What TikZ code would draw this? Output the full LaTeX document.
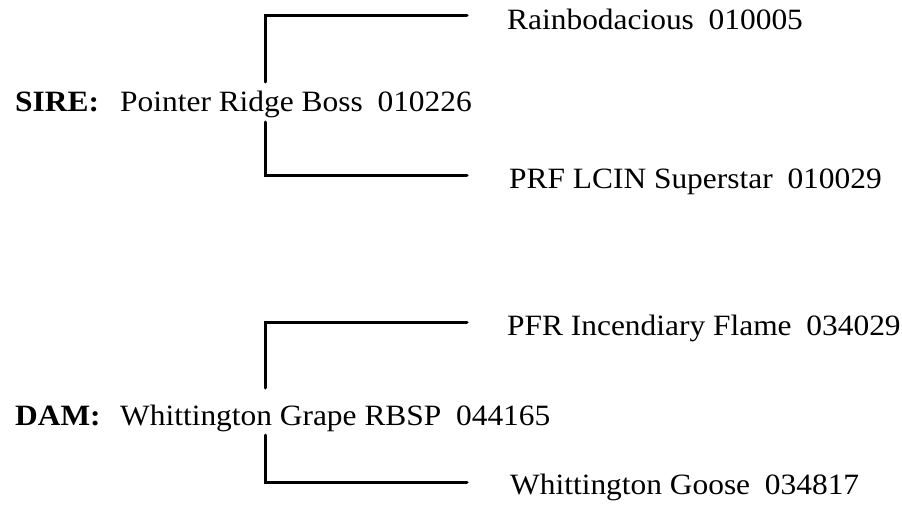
\documentclass[tikz,border=0pt]{standalone}
\usepackage{fontspec}
\setmainfont[FakeStretch=1.065]{Liberation Serif}

\begin{document}
\begin{tikzpicture}[x=1pt, y=-1pt,
    horse/.style={anchor=base west, inner sep=0pt, font=\fontsize{29.5}{34}\selectfont},
    tag/.style={horse, font=\fontsize{29.5}{34}\selectfont\bfseries},
    bracket/.style={line width=3pt, line cap=round, line join=miter}]
    \useasboundingbox (0,0) rectangle (902,506);

    % --- Sire side ---
    \node[tag] (sirelbl) at (15,111) {SIRE:};
    \node[horse] (sire) at (120,111) {Pointer Ridge Boss\hspace{0.5em}010226};
    \node[horse] (siresire) at (507,29) {Rainbodacious\hspace{0.5em}010005};
    \node[horse] (siredam) at (509,188) {PRF LCIN Superstar\hspace{0.5em}010029};

    \coordinate (sireup) at (265,82);
    \coordinate (siredown) at (265,122);
    \coordinate (siretop) at (467,15);
    \coordinate (sirebot) at (467,175);
    \draw[bracket] (siretop) -| (sireup);
    \draw[bracket] (siredown) |- (sirebot);

    % --- Dam side ---
    \node[tag] (damlbl) at (15,425) {DAM:};
    \node[horse] (dam) at (120,425) {Whittington Grape RBSP\hspace{0.5em}044165};
    \node[horse] (damsire) at (507,335) {PFR Incendiary Flame\hspace{0.5em}034029};
    \node[horse] (damdam) at (510,494) {Whittington Goose\hspace{0.5em}034817};

    \coordinate (damup) at (265,388);
    \coordinate (damdown) at (265,435);
    \coordinate (damtop) at (467,322);
    \coordinate (dambot) at (467,482);
    \draw[bracket] (damtop) -| (damup);
    \draw[bracket] (damdown) |- (dambot);
\end{tikzpicture}
\end{document}
